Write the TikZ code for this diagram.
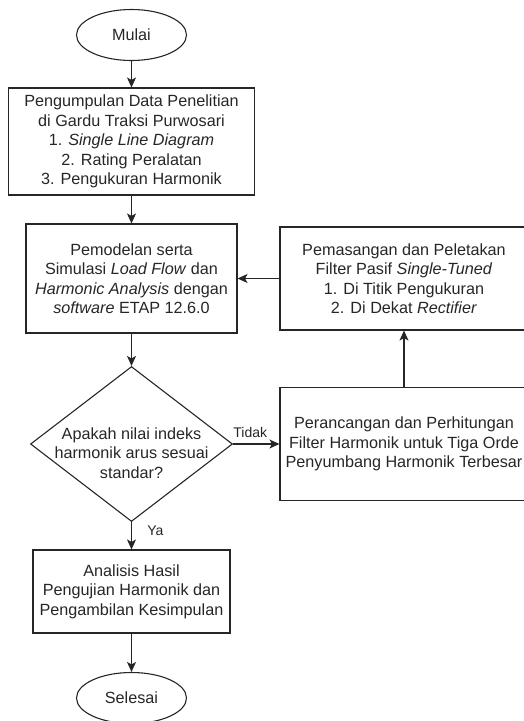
\documentclass[tikz,border=0pt]{standalone}
\usepackage{fontspec}
\setmainfont{Liberation Sans}
\usetikzlibrary{shapes.geometric,arrows.meta}

\begin{document}
\begin{tikzpicture}[
    x=1pt, y=1pt,
    color=black!85,
    line width=1.1pt,
    >={Stealth[length=10pt, width=9pt, inset=2.5pt]},
    block/.style={draw, rectangle, align=center, inner sep=0pt, font=\fontsize{16.2}{19.5}\selectfont},
    terminal/.style={draw, ellipse, inner sep=0pt, minimum width=110pt, minimum height=51pt, font=\fontsize{16.2}{19.5}\selectfont},
    decision/.style={draw, diamond, inner sep=0pt, minimum width=202pt, minimum height=155pt},
    question/.style={align=center, inner sep=0pt, font=\fontsize{16.2}{19.5}\selectfont},
    edge/.style={font=\fontsize{14}{16}\selectfont}
  ]
    \useasboundingbox (0, 0) rectangle (524, -721);

    \node (mulai) at (131.5, -35) [terminal] {Mulai};
    \node (kumpul) at (131.5, -141.5) [block, minimum width=246pt, minimum height=107pt]
      {Pengumpulan Data Penelitian\\ di Gardu Traksi Purwosari\\ 1. \textit{Single Line Diagram}\\ 2. Rating Peralatan\\ 3. Pengukuran Harmonik};
    \node (model) at (131.5, -278.5) [block, minimum width=211pt, minimum height=109pt]
      {Pemodelan serta\\ Simulasi \textit{Load Flow} dan\\ \textit{Harmonic Analysis} dengan\\ \textit{software} ETAP 12.6.0};
    \node (pasang) at (404, -278.5) [block, minimum width=248pt, minimum height=103pt]
      {Pemasangan dan Peletakan\\ Filter Pasif \textit{Single-Tuned}\\ 1. Di Titik Pengukuran\\ 2. Di Dekat \textit{Rectifier}};
    \node (cek) at (131.5, -444) [decision] {};
    \node (cektext) at (131.5, -453) [question] {Apakah nilai indeks\\ harmonik arus sesuai\\ standar?};
    \node (rancang) at (404, -444) [block, minimum width=248pt, minimum height=113pt]
      {Perancangan dan Perhitungan\\ Filter Harmonik untuk Tiga Orde\\ Penyumbang Harmonik Terbesar};
    \node (analisis) at (131.5, -591.5) [block, minimum width=197pt, minimum height=83pt]
      {Analisis Hasil\\ Pengujian Harmonik dan\\ Pengambilan Kesimpulan};
    \node (selesai) at (131.5, -698) [terminal] {Selesai};

    \draw [->] (mulai) -- (kumpul);
    \draw [->] (kumpul) -- (model);
    \draw [->] (model) -- (cek);
    \draw [->] (cek) -- node [edge, above, pos=0.37, yshift=2pt] {Tidak} (rancang);
    \draw [->] (rancang) -- (pasang);
    \draw [->] (pasang) -- (model);
    \draw [->] (cek) -- node [edge, right, pos=0.3, xshift=12pt] {Ya} (analisis);
    \draw [->] (analisis) -- (selesai);
  \end{tikzpicture}
\end{document}
